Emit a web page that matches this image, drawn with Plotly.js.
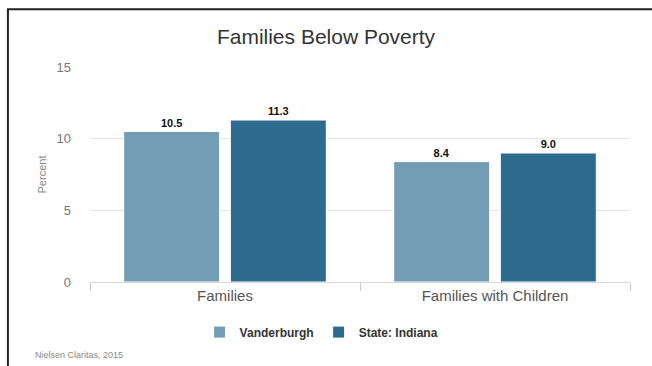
<!DOCTYPE html>
<html><head><meta charset="utf-8">
<script src="https://cdn.plot.ly/plotly-3.0.1.min.js"></script>
<style>html,body{margin:0;padding:0;background:#fff;}#chart{width:652px;height:366px;}</style>
</head><body><div id="chart"></div>
<script>
const categories = ["Families", "Families with Children"];
const vanderburgh = [10.5, 8.4];
const indiana = [11.3, 9.0];
const seriesNames = ["Vanderburgh", "State: Indiana"];
const yTicks = [0, 5, 10, 15];

const fontFam = "Liberation Sans, Arial, Helvetica, sans-serif";
function mk(vals, name, color) {
  return {
    type: "bar", x: categories, y: vals, name: name,
    marker: {color: color, line: {color: "#ffffff", width: 1}},
    text: vals.map(v => v.toFixed(1)), textposition: "outside",
    textfont: {family: fontFam, size: 11, color: "#111", weight: "bold"},
    cliponaxis: false, hoverinfo: "none"
  };
}
const data = [mk(vanderburgh, seriesNames[0], "#739db4"), mk(indiana, seriesNames[1], "#2d6b8f")];
const layout = {
  width: 652, height: 366,
  margin: {l: 90, r: 22, t: 67, b: 84},
  paper_bgcolor: "#fff", plot_bgcolor: "#fff",
  font: {family: fontFam, color: "#555"},
  title: {text: "Families Below Poverty", x: 0.5, xanchor: "center", y: 0.9, yanchor: "middle", yref: "container",
    font: {family: fontFam, size: 21, color: "#333"}},
  barmode: "group", bargap: 0.21, bargroupgap: 0.1,
  xaxis: {tickson: "boundaries", ticks: "outside", ticklen: 8, tickcolor: "#c8c8c8",
    showline: true, linecolor: "#d8d8d8", showgrid: false,
    tickfont: {family: fontFam, size: 15, color: "#555"}},
  yaxis: {range: [0, 15], tickvals: yTicks, showgrid: true, gridcolor: "#e6e6e6", zeroline: false,
    ticks: "", ticklabelstandoff: 18,
    tickfont: {family: fontFam, size: 13, color: "#777"},
    title: {text: "Percent", standoff: 7, font: {family: fontFam, size: 11, color: "#888"}}},
  showlegend: true,
  legend: {orientation: "h", x: 0.203, xanchor: "left", y: -0.233, yanchor: "middle",
    font: {family: fontFam, size: 12, color: "#333", weight: "bold"}, itemwidth: 30, traceorder: "normal"},
  annotations: [{text: "Nielsen Claritas, 2015", xref: "paper", yref: "paper", x: -0.105, y: -0.34,
    xanchor: "left", yanchor: "middle", showarrow: false, font: {family: fontFam, size: 9, color: "#888"}}],
  shapes: [{type: "rect", xref: "paper", yref: "paper", x0: -0.152, x1: 1.2, y0: -0.6, y1: 1.269,
    line: {color: "#222", width: 2}}]
};
Plotly.newPlot("chart", data, layout, {displayModeBar: false, staticPlot: true});
</script></body></html>
